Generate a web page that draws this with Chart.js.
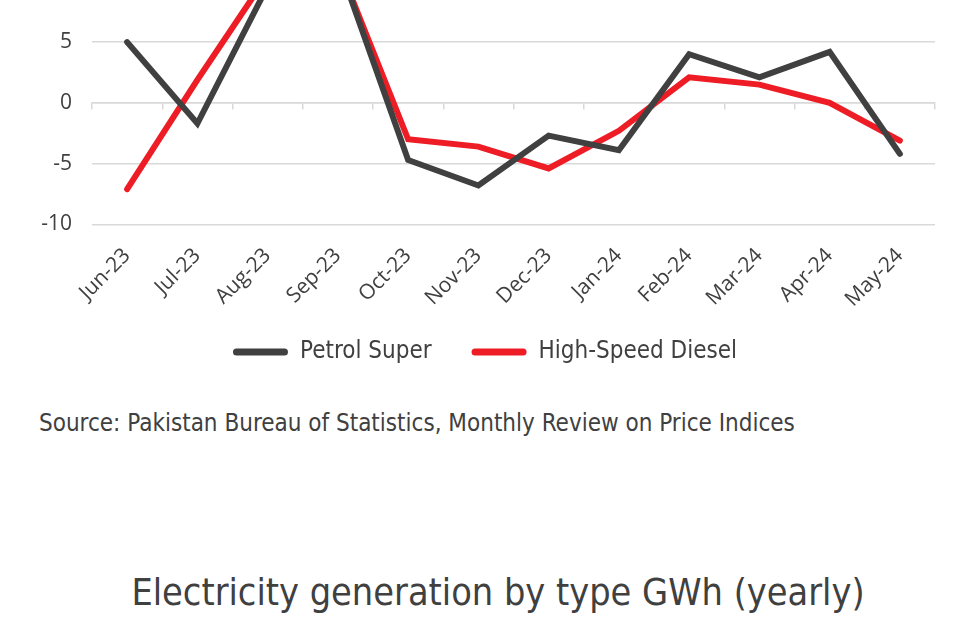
<!DOCTYPE html>
<html>
<head>
<meta charset="utf-8">
<script src="https://cdn.jsdelivr.net/npm/chart.js@4.4.1/dist/chart.umd.min.js"></script>
<style>
  html, body { margin: 0; padding: 0; background: #fff; overflow: hidden; }
  body { width: 971px; height: 624px; position: relative; }
  #wrap { position: absolute; left: 0; top: -112px; width: 971px; height: 509px; }
  #source { position: absolute; left: 39px; top: 409px; font: 24px "DejaVu Sans Condensed", "DejaVu Sans", sans-serif; color: #404040; white-space: nowrap; }
  #title { position: absolute; left: 0; width: 996px; top: 570px; text-align: center; font: 37.5px "DejaVu Sans Condensed", "DejaVu Sans", sans-serif; color: #404040; white-space: nowrap; }
</style>
</head>
<body>
<div id="wrap"><canvas id="chart"></canvas></div>
<div id="source">Source: Pakistan Bureau of Statistics, Monthly Review on Price Indices</div>
<div id="title">Electricity generation by type GWh (yearly)</div>
<script>
const months = ['Jun-23', 'Jul-23', 'Aug-23', 'Sep-23', 'Oct-23', 'Nov-23', 'Dec-23', 'Jan-24', 'Feb-24', 'Mar-24', 'Apr-24', 'May-24'];
const petrolSuper = [5.0, -1.7, 9.6, 11.6, -4.7, -6.8, -2.7, -3.9, 4.0, 2.1, 4.2, -4.2];
const highSpeedDiesel = [-7.1, 1.9, 10.5, 11.5, -3.0, -3.6, -5.4, -2.3, 2.1, 1.5, 0.0, -3.1];
const yTicks = [-10, -5, 0, 5, 10, 15];

const gridColor = '#d9d9d9';
const textColor = '#404040';
const labelFont = '"DejaVu Sans Condensed", "DejaVu Sans", sans-serif';

// подтягиваем легенду ближе к подписям оси
const legendShift = {
    id: 'legendShift',
    afterLayout(chart) {
        chart.legend.top -= 23;
        chart.legend.bottom -= 23;
    }
};

const ctx = document.getElementById('chart').getContext('2d');
const chart = new Chart(ctx, {
    type: 'line',
    data: {
        labels: months,
        datasets: [{
            label: 'Petrol Super',
            data: petrolSuper,
            borderColor: '#404040',
            backgroundColor: '#404040',
            borderWidth: 6,
            pointRadius: 0,
            tension: 0,
            borderCapStyle: 'round',
            borderJoinStyle: 'miter'
        }, {
            label: 'High-Speed Diesel',
            data: highSpeedDiesel,
            borderColor: '#ee1c25',
            backgroundColor: '#ee1c25',
            borderWidth: 6,
            pointRadius: 0,
            tension: 0,
            borderCapStyle: 'round',
            borderJoinStyle: 'miter'
        }]
    },
    plugins: [legendShift],
    options: {
        responsive: true,
        maintainAspectRatio: false,
        animation: false,
        layout: { padding: { top: 7, left: 35, right: 36, bottom: 0 } },
        plugins: {
            legend: {
                position: 'bottom',
                labels: {
                    boxWidth: 55,
                    boxHeight: 7,
                    useBorderRadius: true,
                    borderRadius: 3.5,
                    padding: 40,
                    color: textColor,
                    font: { family: labelFont, size: 24 },
                    // легенда в виде толстой линии
                    generateLabels(chart) {
                        return chart.data.datasets.map((ds, i) => ({
                            text: ds.label,
                            fillStyle: ds.borderColor,
                            strokeStyle: ds.borderColor,
                            lineWidth: 0,
                            fontColor: textColor,
                            borderRadius: 3.5,
                            datasetIndex: i,
                            hidden: false
                        }));
                    }
                }
            },
            tooltip: { enabled: false }
        },
        scales: {
            x: {
                offset: true,
                grid: { display: false },
                border: { display: false },
                ticks: {
                    minRotation: 45,
                    maxRotation: 45,
                    padding: 11,
                    color: textColor,
                    font: { family: '"Open Sans", sans-serif', size: 21 }
                }
            },
            // ось на нуле с засечками между категориями
            x0: {
                type: 'category',
                position: { y: 0 },
                offset: true,
                grid: { offset: true, drawOnChartArea: false, drawTicks: true, tickLength: 6, color: gridColor, lineWidth: 1.5 },
                border: { display: true, color: gridColor, width: 1.5 },
                ticks: { display: false }
            },
            y: {
                min: -10,
                max: 15,
                afterBuildTicks(scale) {
                    scale.ticks = yTicks.map(v => ({ value: v }));
                },
                afterFit(scale) {
                    scale.width = 57;
                },
                grid: { color: gridColor, lineWidth: 1.5, drawTicks: false },
                border: { display: false },
                ticks: {
                    padding: 20,
                    color: textColor,
                    font: { family: '"Open Sans", sans-serif', size: 21 }
                }
            }
        }
    }
});
</script>
</body>
</html>
